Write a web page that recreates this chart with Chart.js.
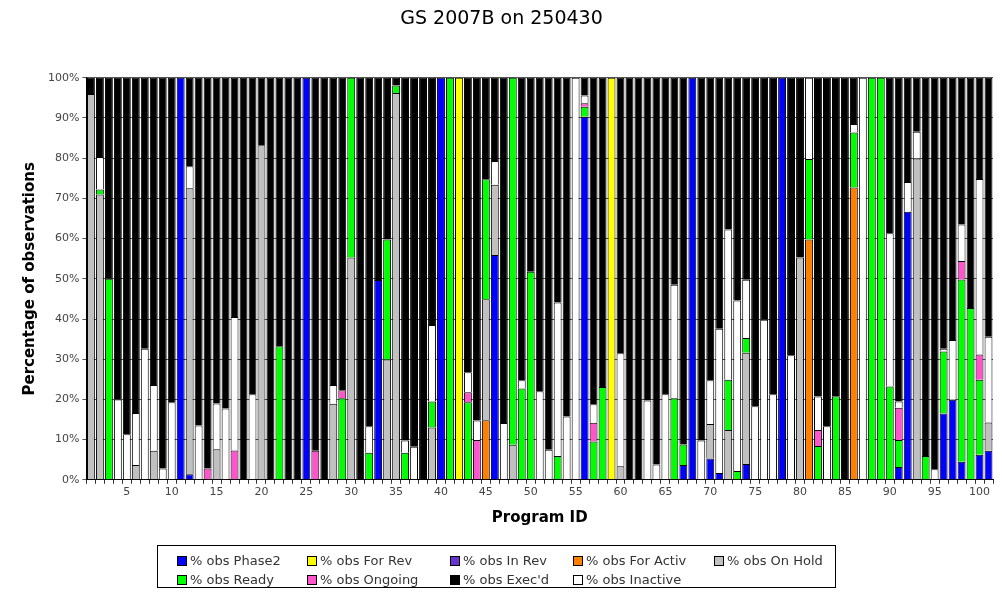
<!DOCTYPE html>
<html>
<head>
<meta charset="utf-8">
<title>GS 2007B on 250430</title>
<script src="https://cdn.jsdelivr.net/npm/chart.js@4/dist/chart.umd.min.js"></script>
<style>
  body { margin: 0; background: #fff; }
  #wrap { position: relative; width: 1002px; height: 600px; }
  #legend {
    position: absolute; left: 157px; top: 545px; width: 679px; height: 43px;
    border: 1px solid #000; font: 13px 'DejaVu Sans', sans-serif; color: #333;
    display: grid; grid-template-columns: 130px 143px 123px 141px auto;
    grid-auto-rows: 19px; padding: 5px 0 0 19px; box-sizing: border-box;
  }
  .item { display: flex; align-items: center; white-space: nowrap; }
  .box { width: 8px; height: 8px; border: 1px solid #000; margin-right: 3px; }
</style>
</head>
<body>
<div id="wrap">
  <canvas id="chart" width="1002" height="600"></canvas>
  <div id="legend"></div>
</div>
<script>
// program ids along the x axis
const programs = Array.from({ length: 101 }, (_, i) => String(i + 1))
const tickLabels = ['5', '10', '15', '20', '25', '30', '35', '40', '45', '50',
  '55', '60', '65', '70', '75', '80', '85', '90', '95', '100']

// % of observations per state, one value per program
const phase2 = [0, 0, 0, 0, 0, 0, 0, 0, 0, 0,
  100, 1.4, 0, 0, 0, 0, 0, 0, 0, 0,
  0, 0, 0, 0, 100, 0, 0, 0, 0, 0,
  0, 0, 49.7, 0, 0, 0, 0, 0, 0, 100,
  0, 0, 0, 0, 0, 55.9, 0, 0, 0, 0,
  0, 0, 0, 0, 0, 90.3, 0, 0, 0, 0,
  0, 0, 0, 0, 0, 0, 3.7, 100, 0, 5.3,
  1.7, 0, 0, 3.9, 0, 0, 0, 100, 0, 0,
  0, 0, 0, 0, 0, 0, 0, 0, 0, 0,
  3.2, 66.7, 0, 0, 0, 16.5, 19.9, 4.5, 0, 6.25,
  7.25]
const forRev = [0, 0, 0, 0, 0, 0, 0, 0, 0, 0,
  0, 0, 0, 0, 0, 0, 0, 0, 0, 0,
  0, 0, 0, 0, 0, 0, 0, 0, 0, 0,
  0, 0, 0, 0, 0, 0, 0, 0, 0, 0,
  0, 100, 0, 0, 0, 0, 0, 0, 0, 0,
  0, 0, 0, 0, 0, 0, 0, 0, 100, 0,
  0, 0, 0, 0, 0, 0, 0, 0, 0, 0,
  0, 0, 0, 0, 0, 0, 0, 0, 0, 0,
  0, 0, 0, 0, 0, 0, 0, 0, 0, 0,
  0, 0, 0, 0, 0, 0, 0, 0, 0, 0,
  0]
const inRev = [0, 0, 0, 0, 0, 0, 0, 0, 0, 0,
  0, 0, 0, 0, 0, 0, 0, 0, 0, 0,
  0, 0, 0, 0, 0, 0, 0, 0, 0, 0,
  0, 0, 0, 0, 0, 0, 0, 0, 0, 0,
  0, 0, 0, 0, 0, 0, 0, 0, 0, 0,
  0, 0, 0, 0, 0, 0, 0, 0, 0, 0,
  0, 0, 0, 0, 0, 0, 0, 0, 0, 0,
  0, 0, 0, 0, 0, 0, 0, 0, 0, 0,
  0, 0, 0, 0, 0, 0, 0, 0, 0, 0,
  0, 0, 0, 0, 0, 0, 0, 0, 0, 0,
  0]
const forActiv = [0, 0, 0, 0, 0, 0, 0, 0, 0, 0,
  0, 0, 0, 0, 0, 0, 0, 0, 0, 0,
  0, 0, 0, 0, 0, 0, 0, 0, 0, 0,
  0, 0, 0, 0, 0, 0, 0, 0, 0, 0,
  0, 0, 0, 0, 14.8, 0, 0, 0, 0, 0,
  0, 0, 0, 0, 0, 0, 0, 0, 0, 0,
  0, 0, 0, 0, 0, 0, 0, 0, 0, 0,
  0, 0, 0, 0, 0, 0, 0, 0, 0, 0,
  59.8, 0, 0, 0, 0, 72.7, 0, 0, 0, 0,
  0, 0, 0, 0, 0, 0, 0, 0, 0, 0,
  0]
const onHold = [96, 71, 0, 0, 0, 3.7, 0, 7.2, 0, 0,
  0, 71.1, 0, 0, 7.6, 0, 0, 0, 0, 83.25,
  0, 0, 0, 0, 0, 0, 0, 18.9, 0, 55.3,
  0, 0, 0, 29.9, 96.2, 0, 0, 0, 13, 0,
  0, 0, 0, 0, 30.1, 17.5, 0, 8.7, 0, 0,
  0, 0, 0, 0, 0, 0, 0, 0, 0, 3.4,
  0, 0, 0, 0, 0, 0, 0, 0, 0, 8.6,
  0, 12.4, 0, 27.7, 0, 0, 0, 0, 0, 55.3,
  0, 0, 0, 0, 0, 0, 0, 0, 0, 0,
  0, 0, 79.9, 0, 0, 0, 0, 0, 0, 0,
  7]
const ready = [0, 1.2, 50, 0, 0, 0, 0, 0, 0, 0,
  0, 0, 0, 0, 0, 0, 0, 0, 0, 0,
  0, 33.2, 0, 0, 0, 0, 0, 0, 20.3, 44.7,
  0, 6.7, 0, 29.85, 1.9, 6.7, 0, 0, 6.5, 0,
  100, 0, 19.3, 0, 29.85, 0, 0, 91.3, 22.7, 51.75,
  0, 0, 5.9, 0, 0, 2.5, 9.5, 23.1, 0, 0,
  0, 0, 0, 0, 0, 20.3, 5.1, 0, 0, 0,
  0, 12.5, 2.2, 3.7, 0, 0, 0, 0, 0, 0,
  20, 8.4, 0, 20.8, 0, 13.7, 0, 100, 100, 23.2,
  6.7, 0, 0, 5.9, 0, 15.4, 0, 45.3, 42.75, 18.65,
  0]
const ongoing = [0, 0, 0, 0, 0, 0, 0, 0, 0, 0,
  0, 0, 0, 2.8, 0, 0, 7.3, 0, 0, 0,
  0, 0, 0, 0, 0, 7.25, 0, 0, 1.95, 0,
  0, 0, 0, 0, 0, 0, 0, 0, 0, 0,
  0, 0, 2.5, 9.9, 0, 0, 0, 0, 0, 0,
  0, 0, 0, 0, 0, 0.9, 4.7, 0, 0, 0,
  0, 0, 0, 0, 0, 0, 0, 0, 0, 0,
  0, 0, 0, 0, 0, 0, 0, 0, 0, 0,
  0, 4, 0, 0, 0, 0, 0, 0, 0, 0,
  8, 0, 0, 0, 0, 0, 0, 4.6, 0, 6.3,
  0]
const inactive = [0, 8.1, 0, 20, 11.3, 12.9, 32.6, 16.4, 2.8, 19.3,
  0, 5.5, 13.5, 0, 11.4, 17.75, 33.2, 0, 21.3, 0,
  0, 0, 0, 0, 0, 0, 0, 4.7, 0, 0,
  0, 6.6, 0, 0, 0, 3.1, 8.25, 0, 19, 0,
  0, 0, 4.95, 4.85, 0, 5.9, 14.1, 0, 2.05, 0,
  22, 7.5, 38.2, 15.75, 100, 1.9, 4.6, 0, 0, 28.1,
  0, 0, 19.75, 3.8, 21.3, 28.2, 0, 0, 9.8, 10.85,
  35.9, 37.35, 42.4, 14.45, 18.3, 39.8, 21.3, 0, 31, 0,
  20.2, 8.35, 13.3, 0, 0, 2.1, 100, 0, 0, 38.1,
  1.6, 7.4, 6.7, 0, 2.6, 0.7, 14.9, 9.1, 0, 43.6,
  21.35]
const execd = [4, 19.7, 50, 80, 88.7, 83.4, 67.4, 76.4, 97.2, 80.7,
  0, 22, 86.5, 97.2, 81, 82.25, 59.5, 100, 78.7, 16.75,
  100, 66.8, 100, 100, 0, 92.75, 100, 76.4, 77.75, 0,
  100, 86.7, 50.3, 40.25, 1.9, 90.2, 91.75, 100, 61.5, 0,
  0, 0, 73.25, 85.25, 25.25, 20.7, 85.9, 0, 75.25, 48.25,
  78, 92.5, 55.9, 84.25, 0, 4.4, 81.2, 76.9, 0, 68.5,
  100, 100, 80.25, 96.2, 78.7, 51.5, 91.2, 0, 90.2, 75.25,
  62.4, 37.75, 55.4, 50.25, 81.7, 60.2, 78.7, 0, 69, 44.7,
  0, 79.25, 86.7, 79.2, 100, 11.5, 0, 0, 0, 38.7,
  80.5, 25.9, 13.4, 94.1, 97.4, 67.4, 65.2, 36.5, 57.25, 25.2,
  64.4]

// stacking order, bottom to top
const series = [
  { label: '% obs Phase2', data: phase2, color: '#0000ff' },
  { label: '% obs For Rev', data: forRev, color: '#ffff00' },
  { label: '% obs In Rev', data: inRev, color: '#6633cc' },
  { label: '% obs For Activ', data: forActiv, color: '#ff8000' },
  { label: '% obs On Hold', data: onHold, color: '#c0c0c0' },
  { label: '% obs Ready', data: ready, color: '#00ff00' },
  { label: '% obs Ongoing', data: ongoing, color: '#ff55cc' },
  { label: '% obs Inactive', data: inactive, color: '#ffffff' },
  { label: "% obs Exec'd", data: execd, color: '#000000' },
]
const legendOrder = ['% obs Phase2', '% obs For Rev', '% obs In Rev', '% obs For Activ', '% obs On Hold',
  '% obs Ready', '% obs Ongoing', "% obs Exec'd", '% obs Inactive']

Chart.defaults.font.family = "'DejaVu Sans', sans-serif"
Chart.defaults.color = '#444'

new Chart(document.getElementById('chart'), {
  type: 'bar',
  data: {
    labels: programs,
    datasets: series.map((s) => ({
      label: s.label,
      data: s.data,
      backgroundColor: s.color,
      borderColor: '#000',
      borderWidth: 1,
      barPercentage: 0.88,
      categoryPercentage: 1,
    })),
  },
  options: {
    responsive: false,
    animation: false,
    layout: { padding: { left: 10, right: 9, top: 0, bottom: 69 } },
    plugins: {
      legend: { display: false },
      tooltip: { enabled: false },
      title: {
        display: true,
        text: 'GS 2007B on 250430',
        color: '#000',
        font: { size: 19, weight: 'normal' },
        padding: { top: 8, bottom: 47 },
      },
    },
    scales: {
      x: {
        stacked: true,
        grid: { display: true, offset: true, drawOnChartArea: false, tickLength: 4, color: '#333' },
        border: { color: '#000' },
        ticks: {
          autoSkip: false,
          maxRotation: 0,
          padding: 2,
          font: { size: 11 },
          callback: (value, index) => (tickLabels.includes(programs[index]) ? programs[index] : ''),
        },
        title: {
          display: true,
          text: 'Program ID',
          color: '#000',
          font: { size: 15, weight: 'bold' },
          padding: { top: 8, bottom: 4 },
        },
      },
      y: {
        stacked: true,
        min: 0,
        max: 100,
        grid: { color: '#555', tickLength: 4 },
        border: { color: '#000' },
        ticks: {
          stepSize: 10,
          padding: 3,
          font: { size: 11 },
          callback: (value) => value + '%',
        },
        title: {
          display: true,
          text: 'Percentage of observations',
          color: '#000',
          font: { size: 15, weight: 'bold' },
          padding: { top: 11, bottom: 6 },
        },
      },
    },
  },
})

// legend laid out as a 5-column grid like the original
const legend = document.getElementById('legend')
legendOrder.forEach((name) => {
  const s = series.find((d) => d.label === name)
  const item = document.createElement('div')
  item.className = 'item'
  item.innerHTML = '<span class="box" style="background:' + s.color + '"></span><span>' + s.label + '</span>'
  legend.appendChild(item)
})
</script>
</body>
</html>
